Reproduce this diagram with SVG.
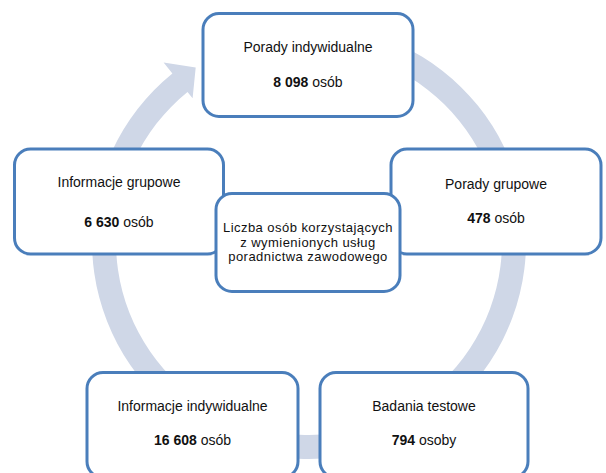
<svg xmlns="http://www.w3.org/2000/svg" width="606" height="473" viewBox="0 0 606 473">
<style>
.box{fill:#fff;stroke:#4A7EBB;stroke-width:3}
.t{font-family:"Liberation Sans",Arial,sans-serif;font-size:14px;fill:#111;text-anchor:middle}
.c{font-size:13px;letter-spacing:0.45px}
.b{font-weight:bold}
.ring{fill:#CFD7E7;stroke:none}
</style>
<rect width="606" height="473" fill="#fff"/>
<g id="connectors">
<path class="ring" d="M 327.9 25.8 A 217 217 0 1 1 172.4 73.4 L 163.6 62.5 L 195.7 67.6 L 192.6 98.2 L 187.5 92.0 A 193 193 0 1 0 325.8 49.7 Z"/>
</g>
<g id="porady-indywidualne">
<rect class="box" x="203" y="13.5" width="210" height="103" rx="16"/>
<text class="t" x="308" y="52">Porady indywidualne</text>
<text class="t" x="308" y="87"><tspan class="b">8 098</tspan> osób</text>
</g>
<g id="informacje-grupowe">
<rect class="box" x="14.5" y="149" width="209" height="105" rx="16"/>
<text class="t" x="119" y="187">Informacje grupowe</text>
<text class="t" x="119" y="227"><tspan class="b">6 630</tspan> osób</text>
</g>
<g id="porady-grupowe">
<rect class="box" x="391" y="149" width="210" height="105" rx="16"/>
<text class="t" x="496" y="189">Porady grupowe</text>
<text class="t" x="496" y="223"><tspan class="b">478</tspan> osób</text>
</g>
<g id="informacje-indywidualne">
<rect class="box" x="87" y="372.5" width="211" height="105" rx="16"/>
<text class="t" x="192.5" y="411">Informacje indywidualne</text>
<text class="t" x="192.5" y="445"><tspan class="b">16 608</tspan> osób</text>
</g>
<g id="badania-testowe">
<rect class="box" x="320" y="372.5" width="208" height="105" rx="16"/>
<text class="t" x="424" y="411">Badania testowe</text>
<text class="t" x="424" y="445"><tspan class="b">794</tspan> osoby</text>
</g>
<g id="liczba-osob">
<rect class="box" x="216" y="193.5" width="184" height="98" rx="16"/>
<text class="t c" x="308" y="232">Liczba osób korzystających</text>
<text class="t c" x="308" y="246.5">z wymienionych usług</text>
<text class="t c" x="308" y="261">poradnictwa zawodowego</text>
</g>
</svg>
